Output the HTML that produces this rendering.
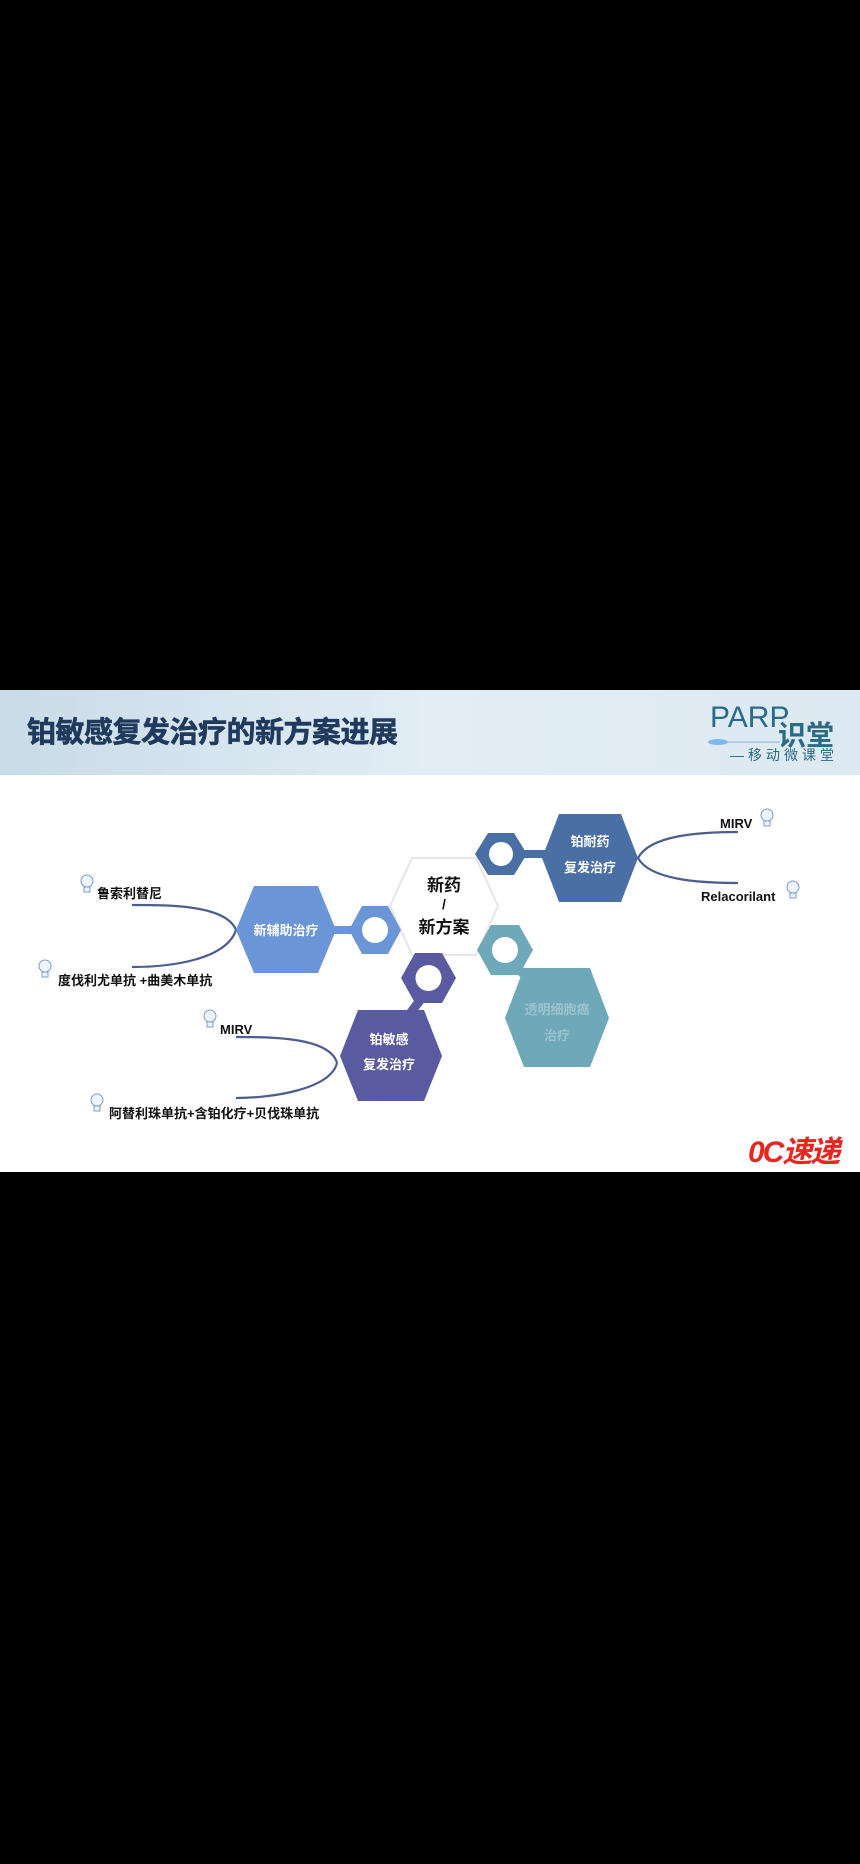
<!DOCTYPE html>
<html><head><meta charset="utf-8"><style>
html,body{margin:0;padding:0;background:#000;}
body{width:860px;height:1864px;position:relative;overflow:hidden;font-family:"Liberation Sans","Noto Sans CJK SC",sans-serif;}
svg{position:absolute;left:0;top:0}
</style></head><body>
<svg width="860" height="1864" viewBox="0 0 860 1864" xmlns="http://www.w3.org/2000/svg" font-family="Liberation Sans, Noto Sans CJK SC, sans-serif">
<defs>
<linearGradient id="hd" x1="0" y1="0" x2="1" y2="0">
<stop offset="0" stop-color="#c9dbe8"/><stop offset="0.5" stop-color="#e2edf5"/><stop offset="1" stop-color="#dde9f2"/></linearGradient>
</defs>
<rect x="0" y="690" width="860" height="482" fill="#fff"/>
<rect x="0" y="690" width="860" height="85" fill="url(#hd)"/>
<text x="27" y="742" font-size="29" font-weight="bold" fill="#1f3a5c" stroke="#1f3a5c" stroke-width="0.6" letter-spacing="-0.5">铂敏感复发治疗的新方案进展</text>
<text x="710" y="727" font-size="30" fill="#2b6a84">PARP</text>
<text x="778" y="745" font-size="28" fill="#2b6a84" font-weight="bold">识堂</text>
<ellipse cx="718" cy="742" rx="10" ry="3" fill="#7fb9e8"/>
<line x1="718" y1="742" x2="780" y2="742" stroke="#8bb4d4" stroke-width="1"/>
<text x="730" y="760" font-size="14" fill="#2b6a84" letter-spacing="4">—移动微课堂</text>

<g fill="none" stroke="#4d5d8f" stroke-width="2.2">
<path d="M638 858 C650 835,700 832,738 832"/>
<path d="M638 858 C650 880,700 883,738 883"/>
<path d="M236 930 C226 905,170 905,132 905"/>
<path d="M236 930 C226 960,170 967,132 967"/>
<path d="M337 1063 C330 1037,270 1037,236 1037"/>
<path d="M337 1063 C330 1090,270 1098,236 1098"/>
</g>

<rect x="515" y="850" width="35" height="8" fill="#4a6fa5"/>
<rect x="325" y="926" width="35" height="8" fill="#6a95d6"/>
<line x1="428" y1="990" x2="405" y2="1020" stroke="#5a5aa0" stroke-width="9"/>
<line x1="512" y1="960" x2="532" y2="985" stroke="#6fa8b8" stroke-width="9"/>

<polygon points="390,906 412,858 476,858 498,906 476,955 412,955" fill="#fff" stroke="#e6e6e6" stroke-width="2"/>
<polygon points="542,858 559,814 621,814 638,858 621,902 559,902" fill="#4a6fa5"/>
<polygon points="236,930 254,886 318,886 336,930 318,973 254,973" fill="#6a95d6"/>
<polygon points="340,1056 358,1010 424,1010 442,1056 424,1101 358,1101" fill="#5a5aa0"/>
<polygon points="505,1018 524,968 590,968 609,1018 590,1067 524,1067" fill="#6fa8b8"/>

<g>
<polygon points="475,854 488,833 514,833 527,854 514,875 488,875" fill="#4a6fa5"/>
<circle cx="501" cy="854" r="12" fill="#fff"/>
<polygon points="349,930 362,906 388,906 401,930 388,954 362,954" fill="#6a95d6"/>
<circle cx="375" cy="930" r="13" fill="#fff"/>
<polygon points="401,978 415,953 442,953 456,978 442,1003 415,1003" fill="#5a5aa0"/>
<circle cx="428.5" cy="978" r="13" fill="#fff"/>
<polygon points="477,950 491,925 519,925 533,950 519,975 491,975" fill="#6fa8b8"/>
<circle cx="505" cy="950" r="13" fill="#fff"/>
</g>

<g font-weight="bold" text-anchor="middle">
<text x="444" y="891" font-size="17" fill="#111">新药</text>
<text x="444" y="909" font-size="14" fill="#111">/</text>
<text x="444" y="933" font-size="17" fill="#111">新方案</text>
<text x="590" y="846" font-size="13" fill="#fff">铂耐药</text>
<text x="590" y="872" font-size="13" fill="#fff">复发治疗</text>
<text x="286" y="935" font-size="13" fill="#fff">新辅助治疗</text>
<text x="389" y="1044" font-size="13" fill="#fff">铂敏感</text>
<text x="389" y="1069" font-size="13" fill="#fff">复发治疗</text>
<text x="557" y="1014" font-size="13" fill="#9cc3cd">透明细胞癌</text>
<text x="557" y="1040" font-size="13" fill="#9cc3cd">治疗</text>
</g>

<g font-weight="bold" font-size="13" fill="#111">
<text x="720" y="828">MIRV</text>
<text x="701" y="901">Relacorilant</text>
<text x="97" y="898">鲁索利替尼</text>
<text x="58" y="985">度伐利尤单抗 +曲美木单抗</text>
<text x="220" y="1034">MIRV</text>
<text x="109" y="1118">阿替利珠单抗+含铂化疗+贝伐珠单抗</text>
</g>

<g fill="#eef4fb" stroke="#7f9cc4" stroke-width="1">
<circle cx="767" cy="815" r="6"/><rect x="764" y="821" width="6" height="5"/>
<circle cx="793" cy="887" r="6"/><rect x="790" y="893" width="6" height="5"/>
<circle cx="87" cy="881" r="6"/><rect x="84" y="887" width="6" height="5"/>
<circle cx="45" cy="966" r="6"/><rect x="42" y="972" width="6" height="5"/>
<circle cx="210" cy="1016" r="6"/><rect x="207" y="1022" width="6" height="5"/>
<circle cx="97" cy="1100" r="6"/><rect x="94" y="1106" width="6" height="5"/>
</g>

<text x="748" y="1162" font-size="30" font-weight="bold" font-style="italic" fill="#e8251f" letter-spacing="-2">0C速递</text>
</svg>
</body></html>
